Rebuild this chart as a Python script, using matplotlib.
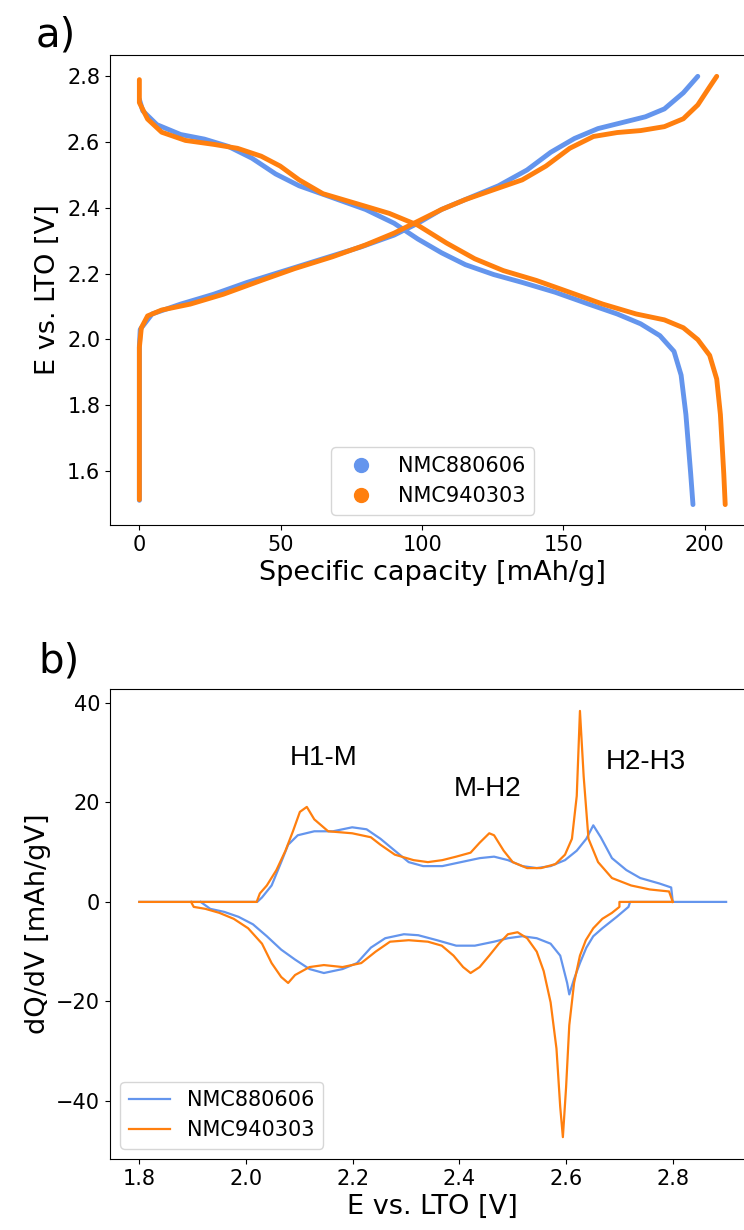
import matplotlib
matplotlib.use('Agg')
import matplotlib.pyplot as plt
from matplotlib.lines import Line2D

BLUE = 'cornflowerblue'
ORANGE = '#ff7f0e'

# ---- a) voltage profiles (capacity in mAh/g, E in V) ----
chg_880_cap = [0, 0, 0.3, 4.5, 14.6, 26.3, 38.1, 51.5, 64.9, 78.4, 90.1, 98.5, 106.9, 116.9,
               127.0, 137.1, 145.5, 153.9, 162.2, 170.6, 179.0, 185.7, 192.4, 197.5]
chg_880_E = [1.51, 1.98, 2.03, 2.077, 2.107, 2.137, 2.173, 2.209, 2.245, 2.281, 2.317, 2.353, 2.395, 2.431,
             2.467, 2.515, 2.569, 2.611, 2.641, 2.659, 2.677, 2.701, 2.750, 2.80]
dis_880_cap = [0, 1.2, 6.2, 14.6, 23.0, 31.4, 39.8, 48.2, 56.5, 68.3, 80.0, 90.1, 98.5, 106.9, 115.3,
               125.3, 135.4, 147.1, 158.9, 169.0, 177.3, 184.1, 189.1, 191.6, 193.3, 195.0, 195.8]
dis_880_E = [2.73, 2.695, 2.653, 2.623, 2.609, 2.587, 2.551, 2.503, 2.467, 2.431, 2.395, 2.353, 2.305, 2.263, 2.227,
             2.197, 2.173, 2.143, 2.107, 2.077, 2.047, 2.011, 1.963, 1.891, 1.771, 1.590, 1.497]

chg_940_cap = [0, 0, 0.7, 2.9, 7.9, 18.0, 29.7, 43.1, 54.9, 68.3, 80.0, 90.1, 98.5, 106.9, 115.3,
               125.3, 135.4, 143.8, 152.2, 160.6, 169.0, 177.3, 185.7, 192.4, 197.5, 201.7, 204.2]
chg_940_E = [1.512, 1.975, 2.035, 2.071, 2.089, 2.107, 2.137, 2.179, 2.215, 2.251, 2.287, 2.323, 2.359, 2.395, 2.425,
             2.455, 2.485, 2.527, 2.581, 2.617, 2.629, 2.635, 2.647, 2.671, 2.713, 2.768, 2.80]
dis_940_cap = [0, 0, 2.9, 7.9, 16.3, 26.3, 34.7, 43.1, 49.8, 56.5, 64.9, 76.7, 88.4, 98.5, 108.6, 118.6,
               128.7, 140.4, 152.2, 163.9, 175.7, 185.7, 192.4, 197.5, 201.7, 204.2, 205.5, 206.7, 207.2]
dis_940_E = [2.79, 2.72, 2.67, 2.63, 2.605, 2.593, 2.581, 2.557, 2.527, 2.485, 2.443, 2.413, 2.383, 2.347, 2.293, 2.245,
             2.209, 2.179, 2.143, 2.107, 2.077, 2.059, 2.035, 1.999, 1.951, 1.879, 1.771, 1.590, 1.497]

# ---- b) dQ/dV (E in V, dQ/dV in mAh/gV) ----
ch_880_E = [1.80, 2.021, 2.03, 2.048, 2.066, 2.079, 2.097, 2.128, 2.163, 2.199, 2.226, 2.252, 2.279, 2.305,
            2.332, 2.368, 2.403, 2.438, 2.465, 2.491, 2.518, 2.545, 2.571, 2.598, 2.62, 2.638, 2.651,
            2.665, 2.686, 2.713, 2.739, 2.775, 2.797, 2.80]
ch_880_v = [0, 0, 0.9, 3.3, 8.0, 11.5, 13.4, 14.2, 14.2, 15.0, 14.6, 12.7, 10.3, 8.0,
            7.2, 7.2, 8.0, 8.8, 9.1, 8.4, 7.2, 6.8, 7.2, 8.4, 10.3, 12.7, 15.4,
            13.0, 8.8, 6.4, 4.8, 3.7, 2.9, 0]
dc_880_E = [2.90, 2.72, 2.717, 2.695, 2.668, 2.651, 2.638, 2.626, 2.615, 2.606, 2.602, 2.589, 2.571, 2.545,
            2.518, 2.491, 2.465, 2.429, 2.394, 2.358, 2.323, 2.296, 2.261, 2.234, 2.208, 2.181, 2.146,
            2.119, 2.092, 2.066, 2.039, 2.013, 1.986, 1.959, 1.933, 1.915]
dc_880_v = [0, 0, -1.0, -3.0, -5.3, -6.9, -9.2, -12.3, -15.5, -18.6, -16.3, -10.8, -8.4, -7.3,
            -6.9, -7.3, -8.0, -8.8, -8.8, -7.7, -6.7, -6.5, -7.3, -9.2, -12.3, -13.5, -14.3,
            -13.5, -11.6, -9.6, -6.9, -4.5, -3.0, -2.0, -1.4, 0]

ch_940_E = [1.80, 2.02, 2.026, 2.039, 2.057, 2.074, 2.088, 2.101, 2.114, 2.128, 2.154, 2.199, 2.234, 2.252,
            2.279, 2.314, 2.341, 2.368, 2.394, 2.421, 2.438, 2.456, 2.465, 2.483, 2.50, 2.527, 2.553,
            2.58, 2.598, 2.611, 2.62, 2.626, 2.633, 2.642, 2.66, 2.686, 2.722, 2.757, 2.793, 2.80]
ch_940_v = [0, 0, 1.7, 3.3, 6.4, 10.3, 14.2, 18.1, 19.1, 16.6, 14.2, 13.8, 13.0, 11.5,
            9.5, 8.4, 8.0, 8.4, 9.1, 9.9, 11.9, 13.8, 13.4, 10.3, 8.0, 6.8, 6.8,
            7.6, 9.5, 12.7, 21.3, 38.4, 25.2, 12.7, 8.0, 4.8, 3.3, 2.5, 2.1, 0]
dc_940_E = [2.80, 2.70, 2.70, 2.686, 2.668, 2.651, 2.637, 2.626, 2.615, 2.606, 2.60, 2.594, 2.589, 2.582,
            2.571, 2.558, 2.545, 2.527, 2.509, 2.491, 2.474, 2.456, 2.438, 2.421, 2.407, 2.389, 2.367,
            2.341, 2.305, 2.27, 2.243, 2.216, 2.181, 2.146, 2.119, 2.092, 2.079, 2.066, 2.048, 2.03,
            2.004, 1.977, 1.95, 1.924, 1.902, 1.897]
dc_940_v = [0, 0, -1.0, -2.2, -3.4, -5.3, -7.7, -10.8, -16.3, -24.8, -37.3, -47.3, -41.2, -29.5,
            -20.2, -13.9, -10.0, -7.3, -6.1, -6.5, -8.4, -10.8, -13.1, -14.3, -13.1, -10.8, -8.8,
            -8.0, -7.7, -8.0, -10.0, -12.3, -13.1, -12.7, -13.1, -14.7, -16.3, -15.1, -12.3, -8.4,
            -5.3, -3.4, -2.2, -1.4, -1.0, 0]

labels = ['NMC880606', 'NMC940303']
peak_names = ['H1-M', 'M-H2', 'H2-H3']
peak_pos = [(2.146, 28.9), (2.453, 22.8), (2.750, 28.1)]

fig = plt.figure(figsize=(7.44, 12.30), dpi=100)

# panel a
ax1 = fig.add_axes([0.1478, 0.5732, 0.8676, 0.3821])
ax1.plot(chg_880_cap, chg_880_E, color=BLUE, lw=3.5, solid_capstyle='round')
ax1.plot(dis_880_cap, dis_880_E, color=BLUE, lw=3.5, solid_capstyle='round')
ax1.plot(chg_940_cap, chg_940_E, color=ORANGE, lw=3.5, solid_capstyle='round')
ax1.plot(dis_940_cap, dis_940_E, color=ORANGE, lw=3.5, solid_capstyle='round')
ax1.set_xlim(-10.4, 217.9)
ax1.set_ylim(1.435, 2.865)
ax1.set_xticks([0, 50, 100, 150, 200])
ax1.set_yticks([1.6, 1.8, 2.0, 2.2, 2.4, 2.6, 2.8])
ax1.set_xlabel('Specific capacity [mAh/g]', fontsize=19.5)
ax1.set_ylabel('E vs. LTO [V]', fontsize=19.5)
ax1.tick_params(labelsize=15)
handles_a = [Line2D([0], [0], marker='o', color=BLUE, lw=0, markersize=10, label=labels[0]),
             Line2D([0], [0], marker='o', color=ORANGE, lw=0, markersize=10, label=labels[1])]
ax1.legend(handles=handles_a, loc='lower center', fontsize=15)

# panel b
ax2 = fig.add_axes([0.1478, 0.0577, 0.8676, 0.3821])
ax2.plot(ch_880_E, ch_880_v, color=BLUE, lw=1.6, label=labels[0])
ax2.plot(dc_880_E, dc_880_v, color=BLUE, lw=1.6)
ax2.plot(ch_940_E, ch_940_v, color=ORANGE, lw=1.6, label=labels[1])
ax2.plot(dc_940_E, dc_940_v, color=ORANGE, lw=1.6)
ax2.set_xlim(1.745, 2.955)
ax2.set_ylim(-51.7, 42.8)
ax2.set_xticks([1.8, 2.0, 2.2, 2.4, 2.6, 2.8])
ax2.set_yticks([-40, -20, 0, 20, 40])
ax2.set_xlabel('E vs. LTO [V]', fontsize=19.5)
ax2.set_ylabel('dQ/dV [mAh/gV]', fontsize=19.5)
ax2.tick_params(labelsize=15)
ax2.legend(loc='lower left', fontsize=15)
for name, (px, py) in zip(peak_names, peak_pos):
    ax2.text(px, py, name, fontsize=20, family='Liberation Sans', ha='center', va='center')

fig.text(36 / 744, 1 - 46 / 1230, 'a)', fontsize=29)
fig.text(38 / 744, 1 - 672 / 1230, 'b)', fontsize=29)

fig.savefig('out.png', dpi=100)
